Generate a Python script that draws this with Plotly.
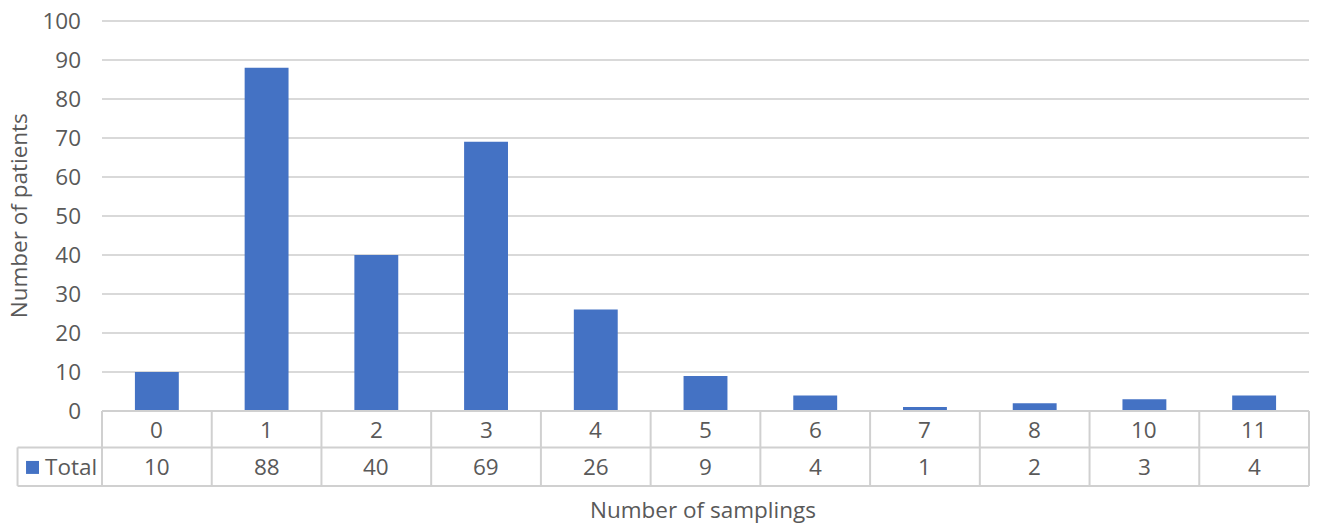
import plotly.graph_objects as go

categories = ["0", "1", "2", "3", "4", "5", "6", "7", "8", "10", "11"]
totals = [10, 88, 40, 69, 26, 9, 4, 1, 2, 3, 4]
y_ticks = [0, 10, 20, 30, 40, 50, 60, 70, 80, 90, 100]
series_name = "Total"

BAR = "#4472C4"
TXT = "#595959"
GRID = "#D9D9D9"
BORDER = "#D0D0D0"
FONT = "Open Sans"
FS = 22.5

# body margin removed by post_script, so figure starts at page (0, 0)
W, H = 1320, 527

# plot area in page pixels
P_LEFT, P_RIGHT = 102, 1309.5
P_BOTTOM = 411.0
UNIT = (411.0 - 20.5) / 100.0
Y_MAX = 100.5
P_TOP = P_BOTTOM - Y_MAX * UNIT

ML = P_LEFT
MR = W - P_RIGHT
MT = P_TOP
MB = H - P_BOTTOM
PW = P_RIGHT - P_LEFT
PH = P_BOTTOM - P_TOP


def px_x(px):
    return (px - P_LEFT) / PW


def px_y(py):
    return (P_BOTTOM - py) / PH


xs = list(range(len(categories)))

fig = go.Figure()
fig.add_trace(go.Bar(x=xs, y=totals, marker=dict(color=BAR, line=dict(width=0)),
                     name=series_name, showlegend=False, hoverinfo="skip"))

row1_top = px_y(P_BOTTOM)
row1_bot = px_y(447.5)
row2_bot = px_y(486)
left_col = px_x(17.5)

shapes = []
line = dict(color=BORDER, width=2)
shapes.append(dict(type="line", xref="paper", yref="paper", x0=0, x1=1, y0=row1_top, y1=row1_top, line=line, layer="above"))
shapes.append(dict(type="line", xref="paper", yref="paper", x0=left_col, x1=1, y0=row1_bot, y1=row1_bot, line=line, layer="above"))
shapes.append(dict(type="line", xref="paper", yref="paper", x0=left_col, x1=1, y0=row2_bot, y1=row2_bot, line=line, layer="above"))
shapes.append(dict(type="line", xref="paper", yref="paper", x0=left_col, x1=left_col, y0=row1_bot, y1=row2_bot, line=line))
shapes.append(dict(type="line", xref="paper", yref="paper", x0=0, x1=0, y0=row1_top, y1=row2_bot, line=line))
shapes.append(dict(type="line", xref="paper", yref="paper", x0=1, x1=1, y0=row1_top, y1=row2_bot, line=line))
for k in range(len(categories) - 1):
    shapes.append(dict(type="line", xref="x", yref="paper", x0=k + 0.5, x1=k + 0.5,
                       y0=row1_top, y1=row2_bot, line=line))
# legend key
shapes.append(dict(type="rect", xref="paper", yref="paper", x0=px_x(26), x1=px_x(39),
                   y0=px_y(474), y1=px_y(461), fillcolor=BAR, line=dict(width=0)))

tf = dict(family=FONT, size=FS, color=TXT)
annotations = []
for k, (c, v) in enumerate(zip(categories, totals)):
    annotations.append(dict(x=k, y=px_y(429.5), xref="x", yref="paper", text=c, showarrow=False,
                            font=tf, xanchor="center", yanchor="middle"))
    annotations.append(dict(x=k, y=px_y(467), xref="x", yref="paper", text=str(v), showarrow=False,
                            font=tf, xanchor="center", yanchor="middle"))
annotations.append(dict(x=px_x(43), y=px_y(467), xref="paper", yref="paper", text=series_name, showarrow=False,
                        font=tf, xanchor="left", yanchor="middle"))
annotations.append(dict(x=px_x(703), y=px_y(510), xref="paper", yref="paper", text="Number of samplings",
                        showarrow=False, font=tf, xanchor="center", yanchor="middle"))
annotations.append(dict(x=px_x(18), y=px_y(216), xref="paper", yref="paper", text="Number of patients",
                        showarrow=False, textangle=-90, font=tf, xanchor="center", yanchor="middle"))

fig.update_layout(
    width=W, height=H,
    margin=dict(l=ML, r=MR, t=MT, b=MB, pad=0, autoexpand=False),
    paper_bgcolor="white", plot_bgcolor="white",
    bargap=0.6,
    shapes=shapes, annotations=annotations,
    font=tf,
    xaxis=dict(range=[-0.5, len(categories) - 0.5], showticklabels=False, showgrid=False,
               zeroline=False, showline=False, ticks="", fixedrange=True, automargin=False),
    yaxis=dict(range=[0, Y_MAX], tickvals=y_ticks, showgrid=True, gridcolor=GRID, gridwidth=2,
               zeroline=False, showline=False, ticks="", ticklabelstandoff=20,
               ticklabeloverflow="allow", tickfont=tf, fixedrange=True, automargin=False),
)

fig.write_html("out.html", config={"displayModeBar": False, "staticPlot": True},
               post_script="document.body.style.margin='0';document.body.style.padding='0';")
